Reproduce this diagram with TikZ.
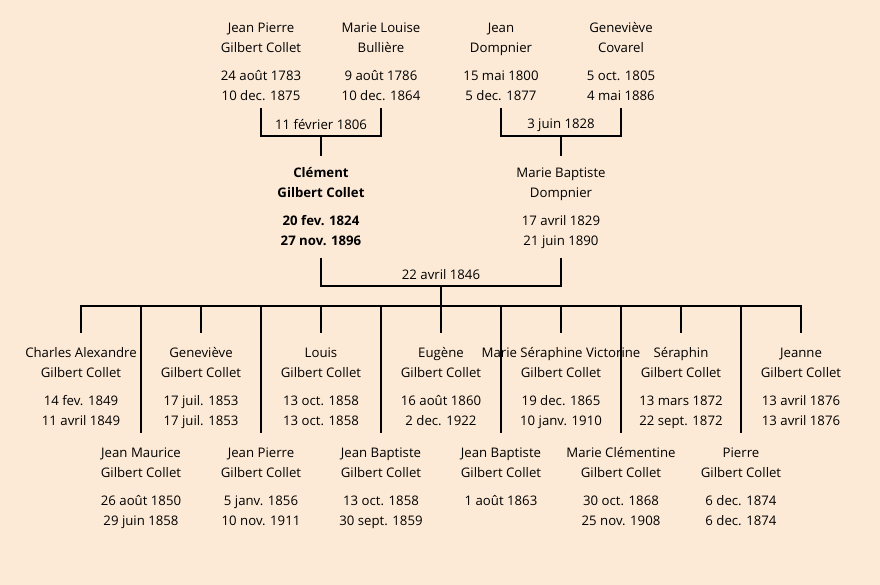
\documentclass[tikz,border=0pt]{standalone}
\usepackage{fontspec}
\setmainfont{Open Sans}
\definecolor{parchment}{RGB}{252,234,214}

\newcommand{\perso}[4]{\strut #1\\#2\\[8pt]#3\\#4\strut}

\begin{document}
\begin{tikzpicture}[x=1pt,y=-1pt,
  person/.style={anchor=north,align=center,inner sep=0pt,outer sep=0pt,
    font=\fontsize{13.2}{20}\selectfont},
  chef/.style={person,font=\fontsize{13.2}{20}\selectfont\bfseries},
  wed/.style={inner sep=0pt,font=\fontsize{13.2}{20}\selectfont},
  lien/.style={line width=2pt}]
\useasboundingbox[fill=parchment](0,0) rectangle (880,585);
%
\node[person](jpgc) at (261,19){\perso{Jean Pierre}{Gilbert Collet}{24 août 1783}{10 dec. 1875}};
\node[person](mlb) at (381,19){\perso{Marie Louise}{Bullière}{9 août 1786}{10 dec. 1864}};
\node[person](jd) at (501,19){\perso{Jean}{Dompnier}{15 mai 1800}{5 dec. 1877}};
\node[person](gco) at (621,19){\perso{Geneviève}{Covarel}{5 oct. 1805}{4 mai 1886}};
%
\node[chef](cgc) at (321,164){\perso{Clément}{Gilbert Collet}{20 fev. 1824}{27 nov. 1896}};
\node[person](mbd) at (561,164){\perso{Marie Baptiste}{Dompnier}{17 avril 1829}{21 juin 1890}};
%
\node[person](ca) at (81,343){\perso{Charles Alexandre}{Gilbert Collet}{14 fev. 1849}{11 avril 1849}};
\node[person](ge) at (201,343){\perso{Geneviève}{Gilbert Collet}{17 juil. 1853}{17 juil. 1853}};
\node[person](lo) at (321,343){\perso{Louis}{Gilbert Collet}{13 oct. 1858}{13 oct. 1858}};
\node[person](eu) at (441,343){\perso{Eugène}{Gilbert Collet}{16 août 1860}{2 dec. 1922}};
\node[person](msv) at (561,343){\perso{Marie Séraphine Victorine}{Gilbert Collet}{19 dec. 1865}{10 janv. 1910}};
\node[person](se) at (681,343){\perso{Séraphin}{Gilbert Collet}{13 mars 1872}{22 sept. 1872}};
\node[person](je) at (801,343){\perso{Jeanne}{Gilbert Collet}{13 avril 1876}{13 avril 1876}};
%
\node[person](jm) at (141,443){\perso{Jean Maurice}{Gilbert Collet}{26 août 1850}{29 juin 1858}};
\node[person](jp) at (261,443){\perso{Jean Pierre}{Gilbert Collet}{5 janv. 1856}{10 nov. 1911}};
\node[person](jba) at (381,443){\perso{Jean Baptiste}{Gilbert Collet}{13 oct. 1858}{30 sept. 1859}};
\node[person](jbb) at (501,443){\perso{Jean Baptiste}{Gilbert Collet}{1 août 1863}{}};
\node[person](mc) at (621,443){\perso{Marie Clémentine}{Gilbert Collet}{30 oct. 1868}{25 nov. 1908}};
\node[person](pi) at (741,443){\perso{Pierre}{Gilbert Collet}{6 dec. 1874}{6 dec. 1874}};
%
\coordinate (w1) at (321,136);
\coordinate (w2) at (561,136);
\coordinate (w3) at (441,286);
\coordinate (fam) at (441,306);
\node[wed](d1) at (321,125){11 février 1806};
\node[wed](d2) at (561,125){3 juin 1828};
\node[wed](d3) at (441,275){22 avril 1846};
%
\draw[lien]([yshift=-1pt]jpgc.south) |- (w1) -| ([yshift=-1pt]mlb.south);
\draw[lien]([yshift=-1pt]jd.south) |- (w2) -| ([yshift=-1pt]gco.south);
\draw[lien](w1) -- ([yshift=8pt]cgc.north);
\draw[lien](w2) -- ([yshift=8pt]mbd.north);
\draw[lien]([yshift=-6pt]cgc.south) |- (w3) -| ([yshift=-6pt]mbd.south);
\draw[lien](w3) -- (fam);
\draw[lien]([yshift=10pt]ca.north) |- (fam) -| ([yshift=10pt]je.north);
\foreach \c in {ge,lo,eu,msv,se}
  \draw[lien](\c.north |- fam) -- ([yshift=10pt]\c.north);
\foreach \c in {jm,jp,jba,jbb,mc,pi}
  \draw[lien](\c.north |- fam) -- ([yshift=10pt]\c.north);
\end{tikzpicture}
\end{document}
